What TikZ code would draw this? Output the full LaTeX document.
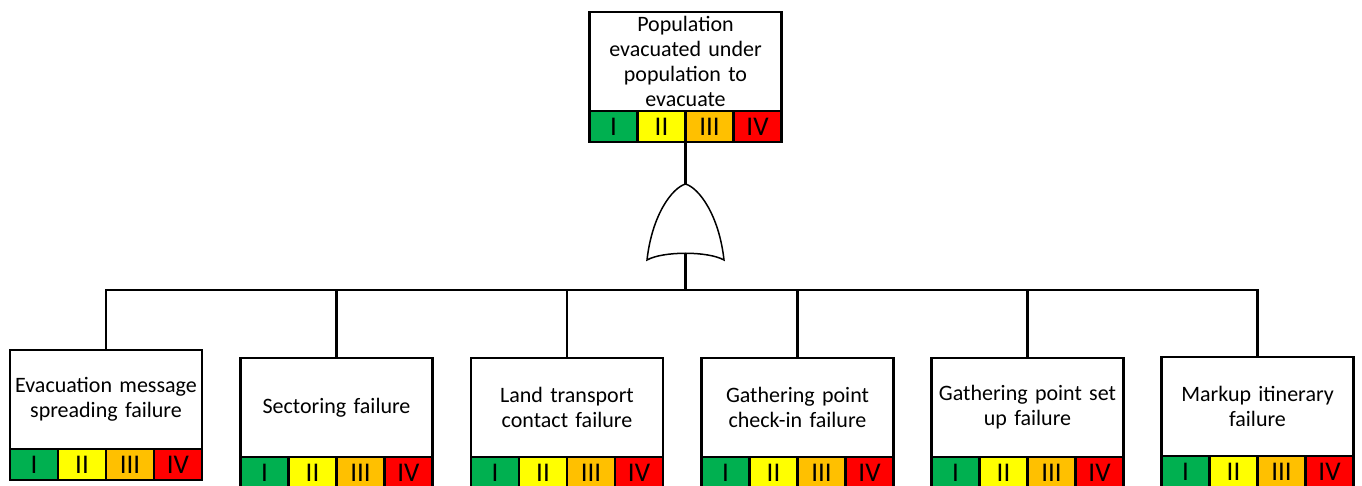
\documentclass[tikz,border=0pt]{standalone}
\usepackage{fontspec}
\setmainfont{Carlito}
\definecolor{cI}{HTML}{00B050}
\definecolor{cII}{HTML}{FFFF00}
\definecolor{cIII}{HTML}{FFC000}
\definecolor{cIV}{HTML}{FF0000}
\tikzset{
  txtbox/.style={draw, line width=2.2pt, fill=white, minimum width=192pt, minimum height=99pt, inner sep=1pt, outer sep=0pt, align=center, text width=188pt, font=\fontsize{22}{25}\selectfont},
  cell/.style={draw, line width=2.2pt, minimum width=48pt, minimum height=31pt, inner sep=0pt, outer sep=0pt, font=\fontsize{27}{28}\selectfont},
  conn/.style={line width=2.2pt},
}
\newcommand\ftbox[4]{%
  \node[txtbox, anchor=north] (#1) at (#2,#3) {#4};
  \node[cell, fill=cI, anchor=north west] (#1-1) at (#1.south west) {I};
  \node[cell, fill=cII, anchor=west] (#1-2) at (#1-1.east) {II};
  \node[cell, fill=cIII, anchor=west] (#1-3) at (#1-2.east) {III};
  \node[cell, fill=cIV, anchor=west] (#1-4) at (#1-3.east) {IV};
}
\begin{document}
\begin{tikzpicture}[x=1pt, y=-1pt]
\useasboundingbox (0,0) rectangle (1362,486);
\begin{scope}
\clip (0,0) rectangle (1362,486);
\ftbox{top}{685.5}{12}{Population\\evacuated under\\population to\\evacuate}
\coordinate (gtop) at (685.5,184);
\coordinate (gbot) at (685.5,253);
\coordinate (gl) at (647,260);
\coordinate (gr) at (724,260);
\coordinate (bus) at (685.5,290);
\ftbox{b1}{106}{350}{Evacuation message\\spreading failure}
\ftbox{b2}{336.5}{358}{Sectoring failure}
\ftbox{b3}{567}{358}{Land transport\\contact failure}
\ftbox{b4}{797.5}{358}{Gathering point\\check-in failure}
\ftbox{b5}{1027.5}{358}{Gathering point set\\up failure}
\ftbox{b6}{1257.5}{357}{Markup itinerary\\failure}
\draw[conn] (top-2.south east) -- (gtop);
\draw[line width=1.5pt, fill=white] (gl) .. controls (652,215) and (672,188) .. (gtop)
  .. controls (699,188) and (719,215) .. (gr)
  .. controls (708,251) and (663,251) .. (gl) -- cycle;
\draw[conn] (gbot) -- (bus);
\draw[conn] (b1.north) |- (bus) -| (b6.north);
\foreach \b in {b2,b3,b4,b5} \draw[conn] (\b.north) -- (\b.north |- bus);
\end{scope}
\end{tikzpicture}
\end{document}
